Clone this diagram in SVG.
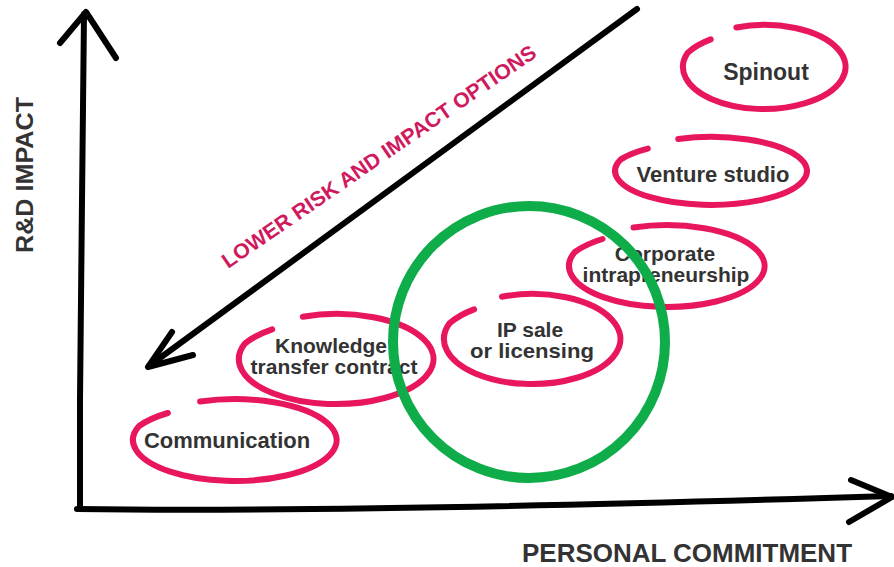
<svg xmlns="http://www.w3.org/2000/svg" width="894" height="567" viewBox="0 0 894 567">
<style>
  .ax{fill:none;stroke:#000;stroke-width:6;stroke-linecap:round;stroke-linejoin:round}
  .ring{fill:none;stroke:#e8175d;stroke-width:6;stroke-linecap:round;stroke-linejoin:round}
  .lbl{font-family:"Liberation Sans",Arial,sans-serif;font-weight:bold;fill:#333;text-anchor:middle}
  .axl{font-family:"Liberation Sans",Arial,sans-serif;font-weight:bold;fill:#333}
</style>
<rect width="894" height="567" fill="#fff"/>
<g id="connectors">
  <path class="ax" d="M84 14 L82 200 L80 400 L80 507"/>
  <path class="ax" d="M60 43 L86 12 L116 58" stroke-width="7"/>
  <path class="ax" d="M77 509 C300 512 600 505 891 496"/>
  <path class="ax" d="M851 480 L892 497 L849 522" stroke-width="7"/>
  <path class="ax" d="M637 9 L149 366"/>
  <path class="ax" d="M172 332 L148 367 L193 355" stroke-width="7"/>
</g>
<text class="axl" font-size="24" transform="translate(33,253) rotate(-90)" textLength="156" lengthAdjust="spacingAndGlyphs">R&amp;D IMPACT</text>
<text class="axl" font-size="25" x="522" y="562" textLength="330" lengthAdjust="spacingAndGlyphs">PERSONAL COMMITMENT</text>
<text font-family="Liberation Sans,Arial,sans-serif" font-weight="bold" font-size="21" fill="#cf1a5e" transform="translate(228,269) rotate(-34.5)" textLength="376" lengthAdjust="spacingAndGlyphs">LOWER RISK AND IMPACT OPTIONS</text>
<g id="spinout" transform="translate(764,67)">
  <path class="ring" d="M-27.7 -39.5 A81 42 0 0 1 40.5 36.4 A81 42 0 0 1 -76.1 -14.4 A81 42 0 0 1 -53.3 -27.6"/>
  <text class="lbl" font-size="23" x="2" y="13">Spinout</text>
</g>
<g id="venture" transform="translate(711,171)">
  <path class="ring" d="M-32.8 -32 A96 34 0 0 1 48 29.4 A96 34 0 0 1 -90.2 -11.6 A96 34 0 0 1 -63.2 -22.4"/>
  <text class="lbl" font-size="22" x="2" y="11">Venture studio</text>
</g>
<g id="corporate" transform="translate(667,266)">
  <path class="ring" d="M-33.5 -38.5 A98 41 0 0 1 49 35.5 A98 41 0 0 1 -92.1 -14 A98 41 0 0 1 -64.5 -27"/>
  <text class="lbl" font-size="21" x="-2" y="-5">Corporate</text>
  <text class="lbl" font-size="21" x="-1" y="16">intrapreneurship</text>
</g>
<g id="ipsale" transform="translate(532,339)">
  <path class="ring" d="M-30.1 -42.3 A88 45 0 0 1 44 39 A88 45 0 0 1 -82.7 -15.4 A88 45 0 0 1 -57.9 -29.6"/>
  <text class="lbl" font-size="21" x="-2" y="-2">IP sale</text>
  <text class="lbl" font-size="21" x="0" y="19" textLength="124" lengthAdjust="spacingAndGlyphs">or licensing</text>
</g>
<g id="knowledge" transform="translate(336,359)">
  <path class="ring" d="M-33.2 -42.3 A97 45 0 0 1 48.5 39 A97 45 0 0 1 -91.2 -15.4 A97 45 0 0 1 -63.8 -29.6"/>
  <text class="lbl" font-size="21" x="-5" y="-6">Knowledge</text>
  <text class="lbl" font-size="21" x="-2" y="15">transfer contract</text>
</g>
<g id="communication" transform="translate(235,440)">
  <path class="ring" d="M-34.9 -38.5 A102 41 0 0 1 51 35.5 A102 41 0 0 1 -95.9 -14 A102 41 0 0 1 -67.1 -27"/>
  <text class="lbl" font-size="22" x="-8" y="8">Communication</text>
</g>
<g id="highlight">
  <circle cx="529" cy="342" r="136" fill="none" stroke="#0fac4a" stroke-width="10"/>
</g>
</svg>
